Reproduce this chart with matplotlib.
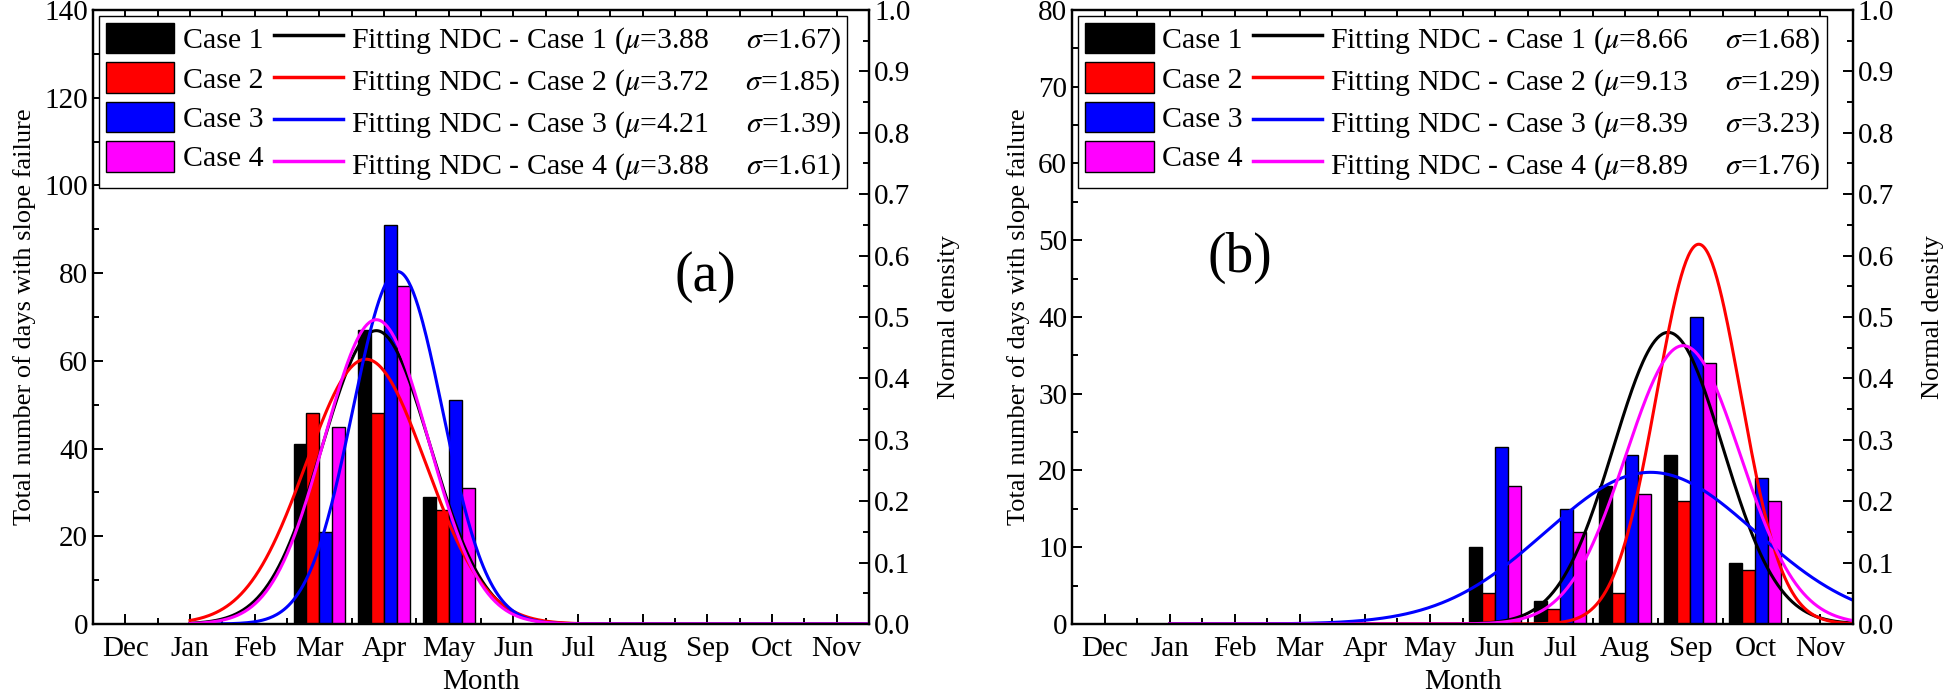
import numpy as np
import matplotlib
matplotlib.use('Agg')
import matplotlib.pyplot as plt
from matplotlib.patches import Patch
from matplotlib.lines import Line2D
from matplotlib.ticker import MultipleLocator, FormatStrFormatter

plt.rcParams['font.family'] = ['Liberation Serif', 'DejaVu Serif']
plt.rcParams['mathtext.fontset'] = 'stix'
plt.rcParams['axes.linewidth'] = 1.6

months = ['Dec', 'Jan', 'Feb', 'Mar', 'Apr', 'May', 'Jun', 'Jul', 'Aug', 'Sep', 'Oct', 'Nov']
case_names = ['Case 1', 'Case 2', 'Case 3', 'Case 4']
colors = ['#000000', '#ff0000', '#0000ff', '#ff00ff']

# panel (a): days with slope failure per month (Dec..Nov)
days_a_case1 = [0, 0, 0, 41, 67, 29, 0, 0, 0, 0, 0, 0]
days_a_case2 = [0, 0, 0, 48, 48, 26, 0, 0, 0, 0, 0, 0]
days_a_case3 = [0, 0, 0, 21, 91, 51, 0, 0, 0, 0, 0, 0]
days_a_case4 = [0, 0, 0, 45, 77, 31, 0, 0, 0, 0, 0, 0]
mu_a = [3.88, 3.72, 4.21, 3.88]
sigma_a = [1.67, 1.85, 1.39, 1.61]

# panel (b)
days_b_case1 = [0, 0, 0, 0, 0, 0, 10, 3, 18, 22, 8, 0]
days_b_case2 = [0, 0, 0, 0, 0, 0, 4, 2, 4, 16, 7, 0]
days_b_case3 = [0, 0, 0, 0, 0, 0, 23, 15, 22, 40, 19, 0]
days_b_case4 = [0, 0, 0, 0, 0, 0, 18, 12, 17, 34, 16, 0]
mu_b = [8.66, 9.13, 8.39, 8.89]
sigma_b = [1.68, 1.29, 3.23, 1.76]

FS = 21


def draw_panel(ax, days, mus, sigmas, ymax, ystep, tag, tag_xy):
    x = np.arange(len(months))
    width = 0.2
    offsets = [-0.3, -0.1, 0.1, 0.3]
    for vals, off, c in zip(days, offsets, colors):
        ax.bar(x + off, vals, width, color=c, edgecolor='black', linewidth=1.0, zorder=2)
    ax.set_xlim(-0.5, 11.5)
    ax.set_ylim(0, ymax)
    ax.set_xticks(x)
    ax.set_xticklabels(months)
    ax.xaxis.set_minor_locator(MultipleLocator(0.5))
    ax.yaxis.set_major_locator(MultipleLocator(ystep))
    ax.yaxis.set_minor_locator(MultipleLocator(ystep / 2))
    ax.tick_params(which='both', direction='in', top=True, labelsize=FS, width=1.4)
    ax.tick_params(which='major', length=7)
    ax.tick_params(which='minor', length=4)
    ax.tick_params(axis='x', pad=9)
    ax.set_xlabel('Month', fontsize=FS, labelpad=5)
    ax.set_ylabel('Total number of days with slope failure', fontsize=19, labelpad=6)

    ax2 = ax.twinx()
    xs = np.linspace(1, 12, 600)
    for m, s, c in zip(mus, sigmas, colors):
        sd = s / 2
        ys = np.exp(-(xs - m) ** 2 / (2 * sd ** 2)) / (sd * np.sqrt(2 * np.pi))
        ax2.plot(xs, ys, color=c, lw=2.2)
    ax2.set_ylim(0, 1.0)
    ax2.yaxis.set_major_locator(MultipleLocator(0.1))
    ax2.yaxis.set_minor_locator(MultipleLocator(0.05))
    ax2.yaxis.set_major_formatter(FormatStrFormatter('%.1f'))
    ax2.tick_params(which='both', direction='in', labelsize=FS, width=1.4)
    ax2.tick_params(which='major', length=7)
    ax2.tick_params(which='minor', length=4)
    ax2.set_ylabel('Normal density', fontsize=19, labelpad=20)

    handles = [Patch(facecolor=c, edgecolor='black', linewidth=1.0) for c in colors]
    handles += [Line2D([], [], color=c, lw=2.5) for c in colors]
    labels = list(case_names)
    labels += ['Fitting NDC - Case %d ($\\mu$=%.2f     $\\sigma$=%.2f)' % (i + 1, m, s)
               for i, (m, s) in enumerate(zip(mus, sigmas))]
    leg = ax2.legend(handles, labels, ncol=2, loc='upper left', bbox_to_anchor=(0.008, 0.99),
                     borderaxespad=0, fontsize=21.5, frameon=True, fancybox=False,
                     edgecolor='black', framealpha=1, handlelength=2.3, handleheight=1.2,
                     labelspacing=0.27, columnspacing=0.35, handletextpad=0.28, borderpad=0.22)
    leg.get_frame().set_linewidth(1.0)
    ax2.text(tag_xy[0], tag_xy[1], tag, transform=ax.transAxes, fontsize=40,
             ha='center', va='center')


fig = plt.figure(figsize=(19.46, 6.99), dpi=100)
ax_a = fig.add_axes([0.0478, 0.1073, 0.3988, 0.8784])
ax_b = fig.add_axes([0.5509, 0.1073, 0.4013, 0.8784])

draw_panel(ax_a, [days_a_case1, days_a_case2, days_a_case3, days_a_case4], mu_a, sigma_a,
           140, 20, '(a)', (0.789, 0.565))
draw_panel(ax_b, [days_b_case1, days_b_case2, days_b_case3, days_b_case4], mu_b, sigma_b,
           80, 10, '(b)', (0.215, 0.596))

fig.savefig('out.png', dpi=100)
